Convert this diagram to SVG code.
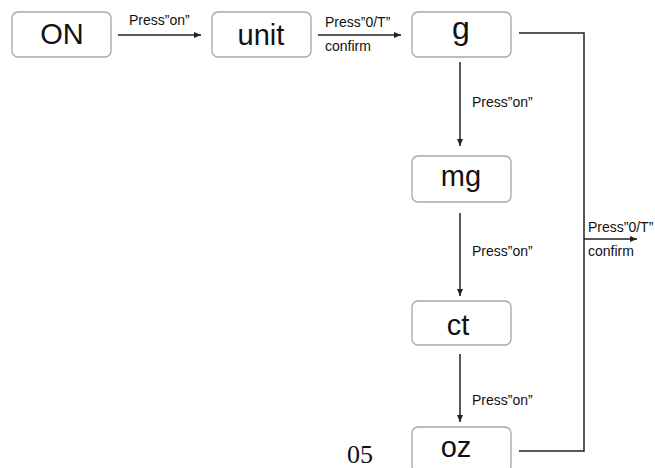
<svg xmlns="http://www.w3.org/2000/svg" width="655" height="468" viewBox="0 0 655 468">
<defs>
<style>
.box{fill:#fff;stroke:#a6a6a6;stroke-width:1.3}
.t{font-family:"Liberation Sans",Arial,sans-serif;font-size:29px;fill:#111;text-anchor:middle}
.l{font-family:"Liberation Sans",Arial,sans-serif;font-size:14px;fill:#111}
.c{stroke:#222;stroke-width:1.5;fill:none}
</style>
<marker id="ah" markerWidth="8" markerHeight="8" viewBox="0 0 8 8" refX="7" refY="4" orient="auto" markerUnits="userSpaceOnUse">
<path d="M0,1 L7,4 L0,7 Z" fill="#222"/>
</marker>
</defs>
<rect width="655" height="468" fill="#fff"/>
<g id="connectors">
<line class="c" x1="118" y1="35" x2="201" y2="35" marker-end="url(#ah)"/>
<text class="l" x="129" y="25">Press”on”</text>
<line class="c" x1="318" y1="35" x2="401" y2="35" marker-end="url(#ah)"/>
<text class="l" x="325" y="27">Press”0/T”</text>
<text class="l" x="325" y="51">confirm</text>
<line class="c" x1="460" y1="62" x2="460" y2="146" marker-end="url(#ah)"/>
<text class="l" x="472" y="107">Press”on”</text>
<line class="c" x1="460" y1="213" x2="460" y2="296" marker-end="url(#ah)"/>
<text class="l" x="472" y="256">Press”on”</text>
<line class="c" x1="460" y1="354" x2="460" y2="422" marker-end="url(#ah)"/>
<text class="l" x="472" y="405">Press”on”</text>
<polyline class="c" points="519,33 584,33 584,451 519,451"/>
<line class="c" x1="584" y1="239" x2="637" y2="239" marker-end="url(#ah)"/>
<text class="l" x="588" y="232">Press”0/T”</text>
<text class="l" x="588" y="256">confirm</text>
</g>
<g id="node-on">
<rect class="box" x="12" y="12" width="99" height="45" rx="6"/>
<text class="t" x="62" y="44">ON</text>
</g>
<g id="node-unit">
<rect class="box" x="212" y="12" width="99" height="45" rx="6"/>
<text class="t" x="261" y="45">unit</text>
</g>
<g id="node-g">
<rect class="box" x="412" y="12" width="99" height="45" rx="6"/>
<text class="t" x="461" y="39" style="font-size:32px">g</text>
</g>
<g id="node-mg">
<rect class="box" x="412" y="156" width="99" height="46" rx="6"/>
<text class="t" x="461" y="186">mg</text>
</g>
<g id="node-ct">
<rect class="box" x="412" y="301" width="99" height="44" rx="6"/>
<text class="t" x="458" y="335">ct</text>
</g>
<g id="node-oz">
<rect class="box" x="412" y="427" width="99" height="45" rx="6"/>
<text class="t" x="456" y="457">oz</text>
</g>
<text x="360" y="463" style="font-family:'Liberation Serif','Times New Roman',serif;font-size:26px;fill:#111;text-anchor:middle">05</text>
</svg>
